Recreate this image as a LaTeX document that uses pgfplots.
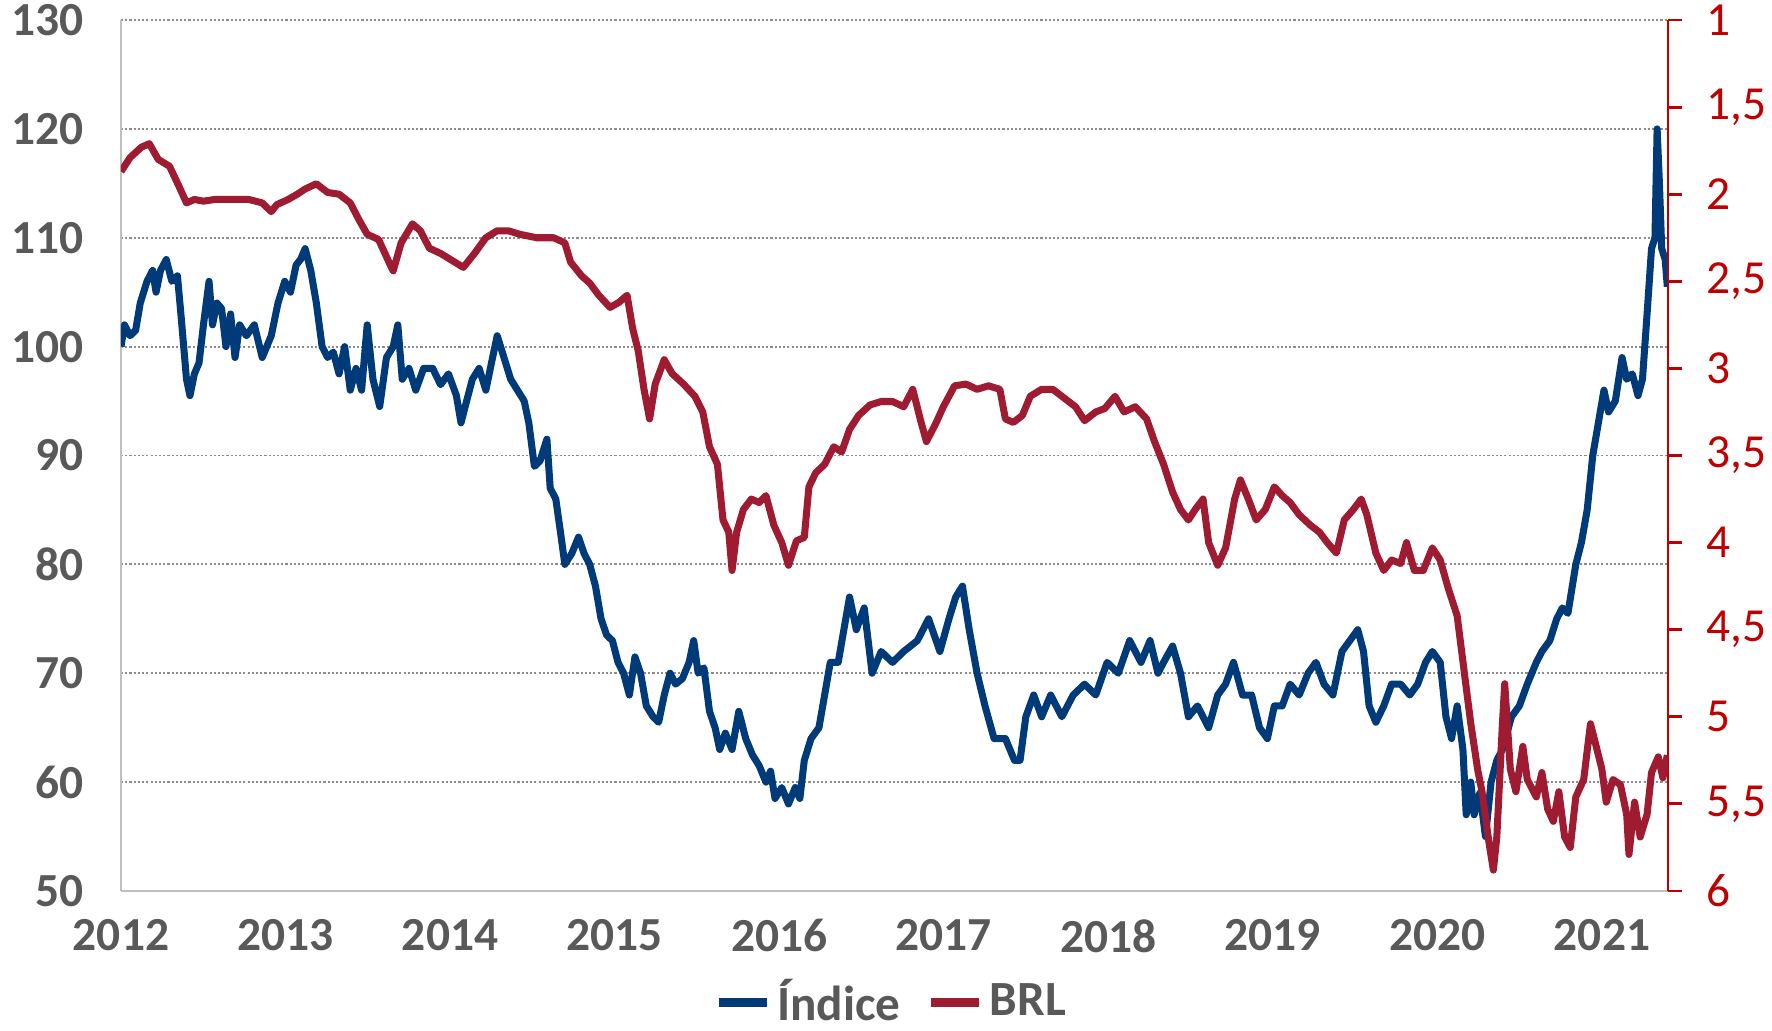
\documentclass[border=0pt]{standalone}
\usepackage{fontspec}
\setmainfont{Carlito}
\usepackage{pgfplots}
\pgfplotsset{compat=1.18}
\definecolor{indblue}{RGB}{0,58,120}
\definecolor{brlred}{RGB}{158,27,50}
\definecolor{axred}{RGB}{192,0,0}
\definecolor{txtgray}{RGB}{89,89,89}

\begin{document}
\begin{tikzpicture}
\useasboundingbox (-1.21cm,-1.40cm) rectangle (16.51cm,8.91cm);
\begin{axis}[
  at={(0,0)}, anchor=south west,
  scale only axis, width=15.47cm, height=8.71cm,
  xmin=2012, xmax=2021.4, ymin=50, ymax=130,
  axis x line*=bottom, axis y line*=left,
  axis line style={draw=black!25, line width=0.8pt},
  xtick={2012,...,2021}, ytick={50,60,...,130},
  major tick length=0pt,
  ymajorgrids, major grid style={black!45, line width=0.5pt, dash pattern=on 0.6pt off 0.6pt},
  /pgf/number format/.cd, 1000 sep={}, assume math mode=true, /pgfplots/.cd,
  tick label style={font=\fontsize{13.5}{15}\selectfont\bfseries, text=txtgray},
  xticklabel style={yshift=-1.6mm},
  yticklabel style={xshift=-2.5mm},
  legend columns=2,
  legend style={at={(0.499,-0.128)}, anchor=center, draw=none, fill=none,
    font=\fontsize{14}{15}\selectfont\bfseries, text=txtgray,
    /tikz/every even column/.append style={column sep=2mm},
    legend cell align=left, inner sep=0pt,
    nodes={inner xsep=0.6mm}},
  legend image code/.code={\draw[#1, line width=2.6pt] (0cm,0cm) -- (0.48cm,0cm);},
]
\addplot[indblue, line width=2pt, line join=round] coordinates {
(2012.000,100) (2012.021,102) (2012.055,101) (2012.089,101.5) (2012.117,104) (2012.158,106) (2012.192,107) (2012.213,105) (2012.240,107) (2012.275,108)
(2012.309,106) (2012.343,106.5) (2012.364,103) (2012.398,97) (2012.419,95.5) (2012.446,97.5) (2012.474,98.5) (2012.501,102) (2012.535,106) (2012.556,102)
(2012.583,104) (2012.611,103.5) (2012.638,100) (2012.666,103) (2012.693,99) (2012.721,102) (2012.762,101) (2012.810,102) (2012.858,99) (2012.913,101)
(2012.954,104) (2012.995,106) (2013.030,105) (2013.064,107.5) (2013.091,108) (2013.119,109) (2013.153,107) (2013.187,104) (2013.222,100) (2013.256,99)
(2013.290,99.5) (2013.325,97.5) (2013.359,100) (2013.393,96) (2013.428,98) (2013.462,96) (2013.496,102) (2013.531,97) (2013.572,94.5) (2013.613,99)
(2013.654,100) (2013.682,102) (2013.709,97) (2013.750,98) (2013.791,96) (2013.839,98) (2013.894,98) (2013.942,96.5) (2013.990,97.5) (2014.038,95.5)
(2014.066,93) (2014.100,95) (2014.135,97) (2014.176,98) (2014.217,96) (2014.258,99) (2014.286,101) (2014.327,99) (2014.368,97) (2014.409,96)
(2014.450,95) (2014.478,93) (2014.512,89) (2014.546,89.5) (2014.588,91.5) (2014.608,87) (2014.642,86) (2014.670,83) (2014.697,80) (2014.739,81)
(2014.780,82.5) (2014.814,81) (2014.848,80) (2014.883,78) (2014.917,75) (2014.951,73.5) (2014.986,73) (2015.020,71) (2015.054,70) (2015.089,68)
(2015.123,71.5) (2015.157,70) (2015.192,67) (2015.233,66) (2015.267,65.5) (2015.301,68) (2015.336,70) (2015.370,69) (2015.411,69.5) (2015.452,71)
(2015.480,73) (2015.507,70) (2015.542,70.5) (2015.576,66.5) (2015.610,65) (2015.638,63) (2015.672,64.5) (2015.713,63) (2015.754,66.5) (2015.796,64)
(2015.837,62.5) (2015.878,61.5) (2015.919,60) (2015.947,61) (2015.974,58.5) (2016.015,59.5) (2016.056,58) (2016.097,59.5) (2016.125,58.5) (2016.152,62)
(2016.193,64) (2016.241,65) (2016.310,71) (2016.358,71) (2016.427,77) (2016.468,74) (2016.516,76) (2016.564,70) (2016.619,72) (2016.688,71)
(2016.756,72) (2016.839,73) (2016.907,75) (2016.976,72) (2017.031,75) (2017.072,77) (2017.113,78) (2017.154,74) (2017.202,70) (2017.250,67)
(2017.305,64) (2017.374,64) (2017.429,62) (2017.463,62) (2017.498,66) (2017.546,68) (2017.594,66) (2017.649,68) (2017.717,66) (2017.786,68)
(2017.855,69) (2017.923,68) (2017.992,71) (2018.060,70) (2018.129,73) (2018.198,71) (2018.253,73) (2018.301,70) (2018.335,71) (2018.390,72.5)
(2018.438,70) (2018.486,66) (2018.541,67) (2018.609,65) (2018.664,68) (2018.712,69) (2018.760,71) (2018.815,68) (2018.870,68) (2018.918,65)
(2018.966,64) (2019.008,67) (2019.056,67) (2019.104,69) (2019.159,68) (2019.213,70) (2019.261,71) (2019.310,69) (2019.364,68) (2019.419,72)
(2019.467,73) (2019.515,74) (2019.550,72) (2019.584,67) (2019.625,65.5) (2019.673,67) (2019.721,69) (2019.776,69) (2019.831,68) (2019.879,69)
(2019.927,71) (2019.968,72) (2020.016,71) (2020.051,66) (2020.085,64) (2020.119,67) (2020.154,63) (2020.174,57) (2020.202,60) (2020.222,57)
(2020.257,59) (2020.291,55) (2020.325,60) (2020.360,62) (2020.394,63) (2020.449,66) (2020.497,67) (2020.545,69) (2020.600,71) (2020.634,72)
(2020.682,73) (2020.724,75) (2020.758,76) (2020.792,75.5) (2020.840,80) (2020.874,82) (2020.909,85) (2020.943,90) (2020.977,93) (2021.011,96)
(2021.039,94) (2021.080,95) (2021.121,99) (2021.149,97) (2021.183,97.5) (2021.218,95.5) (2021.245,97) (2021.273,103) (2021.300,109) (2021.321,110)
(2021.334,120) (2021.348,115) (2021.362,109) (2021.383,108) (2021.396,105.5)
};
\addlegendentry{Índice}
\addlegendimage{brlred, line width=2pt}
\addlegendentry{BRL}
\end{axis}
\begin{axis}[
  at={(0,0)}, anchor=south west,
  scale only axis, width=15.47cm, height=8.71cm,
  xmin=2012, xmax=2021.4, ymin=1, ymax=6, y dir=reverse,
  axis x line=none, axis y line*=right,
  y axis line style={draw=axred, line width=0.8pt},
  ytick={1,1.5,2,2.5,3,3.5,4,4.5,5,5.5,6},
  tick align=outside, major tick length=1.4mm,
  ytick style={draw=axred, line width=0.8pt},
  /pgf/number format/.cd, use comma, assume math mode=true, /pgfplots/.cd,
  yticklabel style={font=\fontsize{13.5}{15}\selectfont, text=axred, xshift=1.2mm},
]
\addplot[brlred, line width=2pt, line join=round] coordinates {
(2012.000,1.87) (2012.055,1.79) (2012.124,1.73) (2012.172,1.71) (2012.226,1.80) (2012.295,1.84) (2012.350,1.95) (2012.398,2.05) (2012.446,2.03) (2012.501,2.04)
(2012.570,2.03) (2012.638,2.03) (2012.707,2.03) (2012.776,2.03) (2012.858,2.05) (2012.913,2.10) (2012.947,2.06) (2013.016,2.03) (2013.071,2.00) (2013.119,1.97)
(2013.187,1.94) (2013.256,1.99) (2013.325,2.00) (2013.393,2.05) (2013.448,2.15) (2013.496,2.23) (2013.565,2.26) (2013.633,2.40) (2013.654,2.44) (2013.702,2.28)
(2013.771,2.17) (2013.819,2.21) (2013.874,2.31) (2013.942,2.34) (2014.011,2.38) (2014.080,2.42) (2014.148,2.34) (2014.217,2.25) (2014.286,2.21) (2014.354,2.21)
(2014.423,2.23) (2014.526,2.25) (2014.629,2.25) (2014.697,2.28) (2014.732,2.39) (2014.800,2.47) (2014.848,2.51) (2014.903,2.58) (2014.972,2.65) (2015.027,2.62)
(2015.075,2.58) (2015.109,2.77) (2015.143,2.90) (2015.178,3.12) (2015.212,3.29) (2015.246,3.09) (2015.301,2.95) (2015.349,3.03) (2015.418,3.09) (2015.487,3.16)
(2015.535,3.25) (2015.576,3.45) (2015.624,3.55) (2015.658,3.87) (2015.693,3.94) (2015.713,4.16) (2015.741,3.94) (2015.782,3.81) (2015.830,3.75) (2015.878,3.77)
(2015.919,3.73) (2015.967,3.90) (2016.015,4.00) (2016.056,4.13) (2016.104,3.99) (2016.152,3.97) (2016.180,3.68) (2016.221,3.60) (2016.276,3.55) (2016.331,3.45)
(2016.379,3.48) (2016.427,3.35) (2016.482,3.27) (2016.551,3.21) (2016.619,3.19) (2016.688,3.19) (2016.756,3.22) (2016.811,3.12) (2016.859,3.30) (2016.894,3.42)
(2016.949,3.32) (2016.997,3.22) (2017.065,3.10) (2017.134,3.09) (2017.202,3.12) (2017.271,3.10) (2017.340,3.12) (2017.374,3.29) (2017.422,3.31) (2017.477,3.27)
(2017.525,3.16) (2017.594,3.12) (2017.662,3.12) (2017.717,3.16) (2017.800,3.22) (2017.855,3.30) (2017.923,3.25) (2017.978,3.23) (2018.040,3.16) (2018.095,3.25)
(2018.163,3.22) (2018.232,3.29) (2018.280,3.42) (2018.335,3.55) (2018.390,3.71) (2018.438,3.81) (2018.486,3.87) (2018.527,3.81) (2018.575,3.75) (2018.609,4.00)
(2018.664,4.13) (2018.712,4.03) (2018.767,3.75) (2018.802,3.64) (2018.850,3.75) (2018.898,3.87) (2018.953,3.81) (2019.008,3.68) (2019.056,3.73) (2019.104,3.77)
(2019.159,3.84) (2019.227,3.90) (2019.282,3.94) (2019.330,4.00) (2019.385,4.06) (2019.433,3.87) (2019.488,3.81) (2019.536,3.75) (2019.570,3.84) (2019.625,4.06)
(2019.673,4.16) (2019.721,4.10) (2019.776,4.12) (2019.811,4.00) (2019.859,4.16) (2019.913,4.16) (2019.968,4.03) (2020.016,4.10) (2020.064,4.26) (2020.119,4.42)
(2020.167,4.78) (2020.202,5.04) (2020.243,5.30) (2020.270,5.43) (2020.312,5.72) (2020.339,5.88) (2020.360,5.69) (2020.394,5.04) (2020.408,4.81) (2020.442,5.30)
(2020.476,5.43) (2020.518,5.17) (2020.545,5.36) (2020.600,5.46) (2020.634,5.32) (2020.669,5.53) (2020.703,5.60) (2020.737,5.43) (2020.772,5.69) (2020.806,5.75)
(2020.840,5.46) (2020.888,5.36) (2020.929,5.04) (2020.964,5.17) (2020.998,5.30) (2021.025,5.49) (2021.066,5.36) (2021.111,5.39) (2021.149,5.56) (2021.163,5.79)
(2021.197,5.49) (2021.231,5.69) (2021.273,5.56) (2021.300,5.32) (2021.341,5.23) (2021.369,5.35) (2021.396,5.22)
};
\end{axis}
\end{tikzpicture}
\end{document}
